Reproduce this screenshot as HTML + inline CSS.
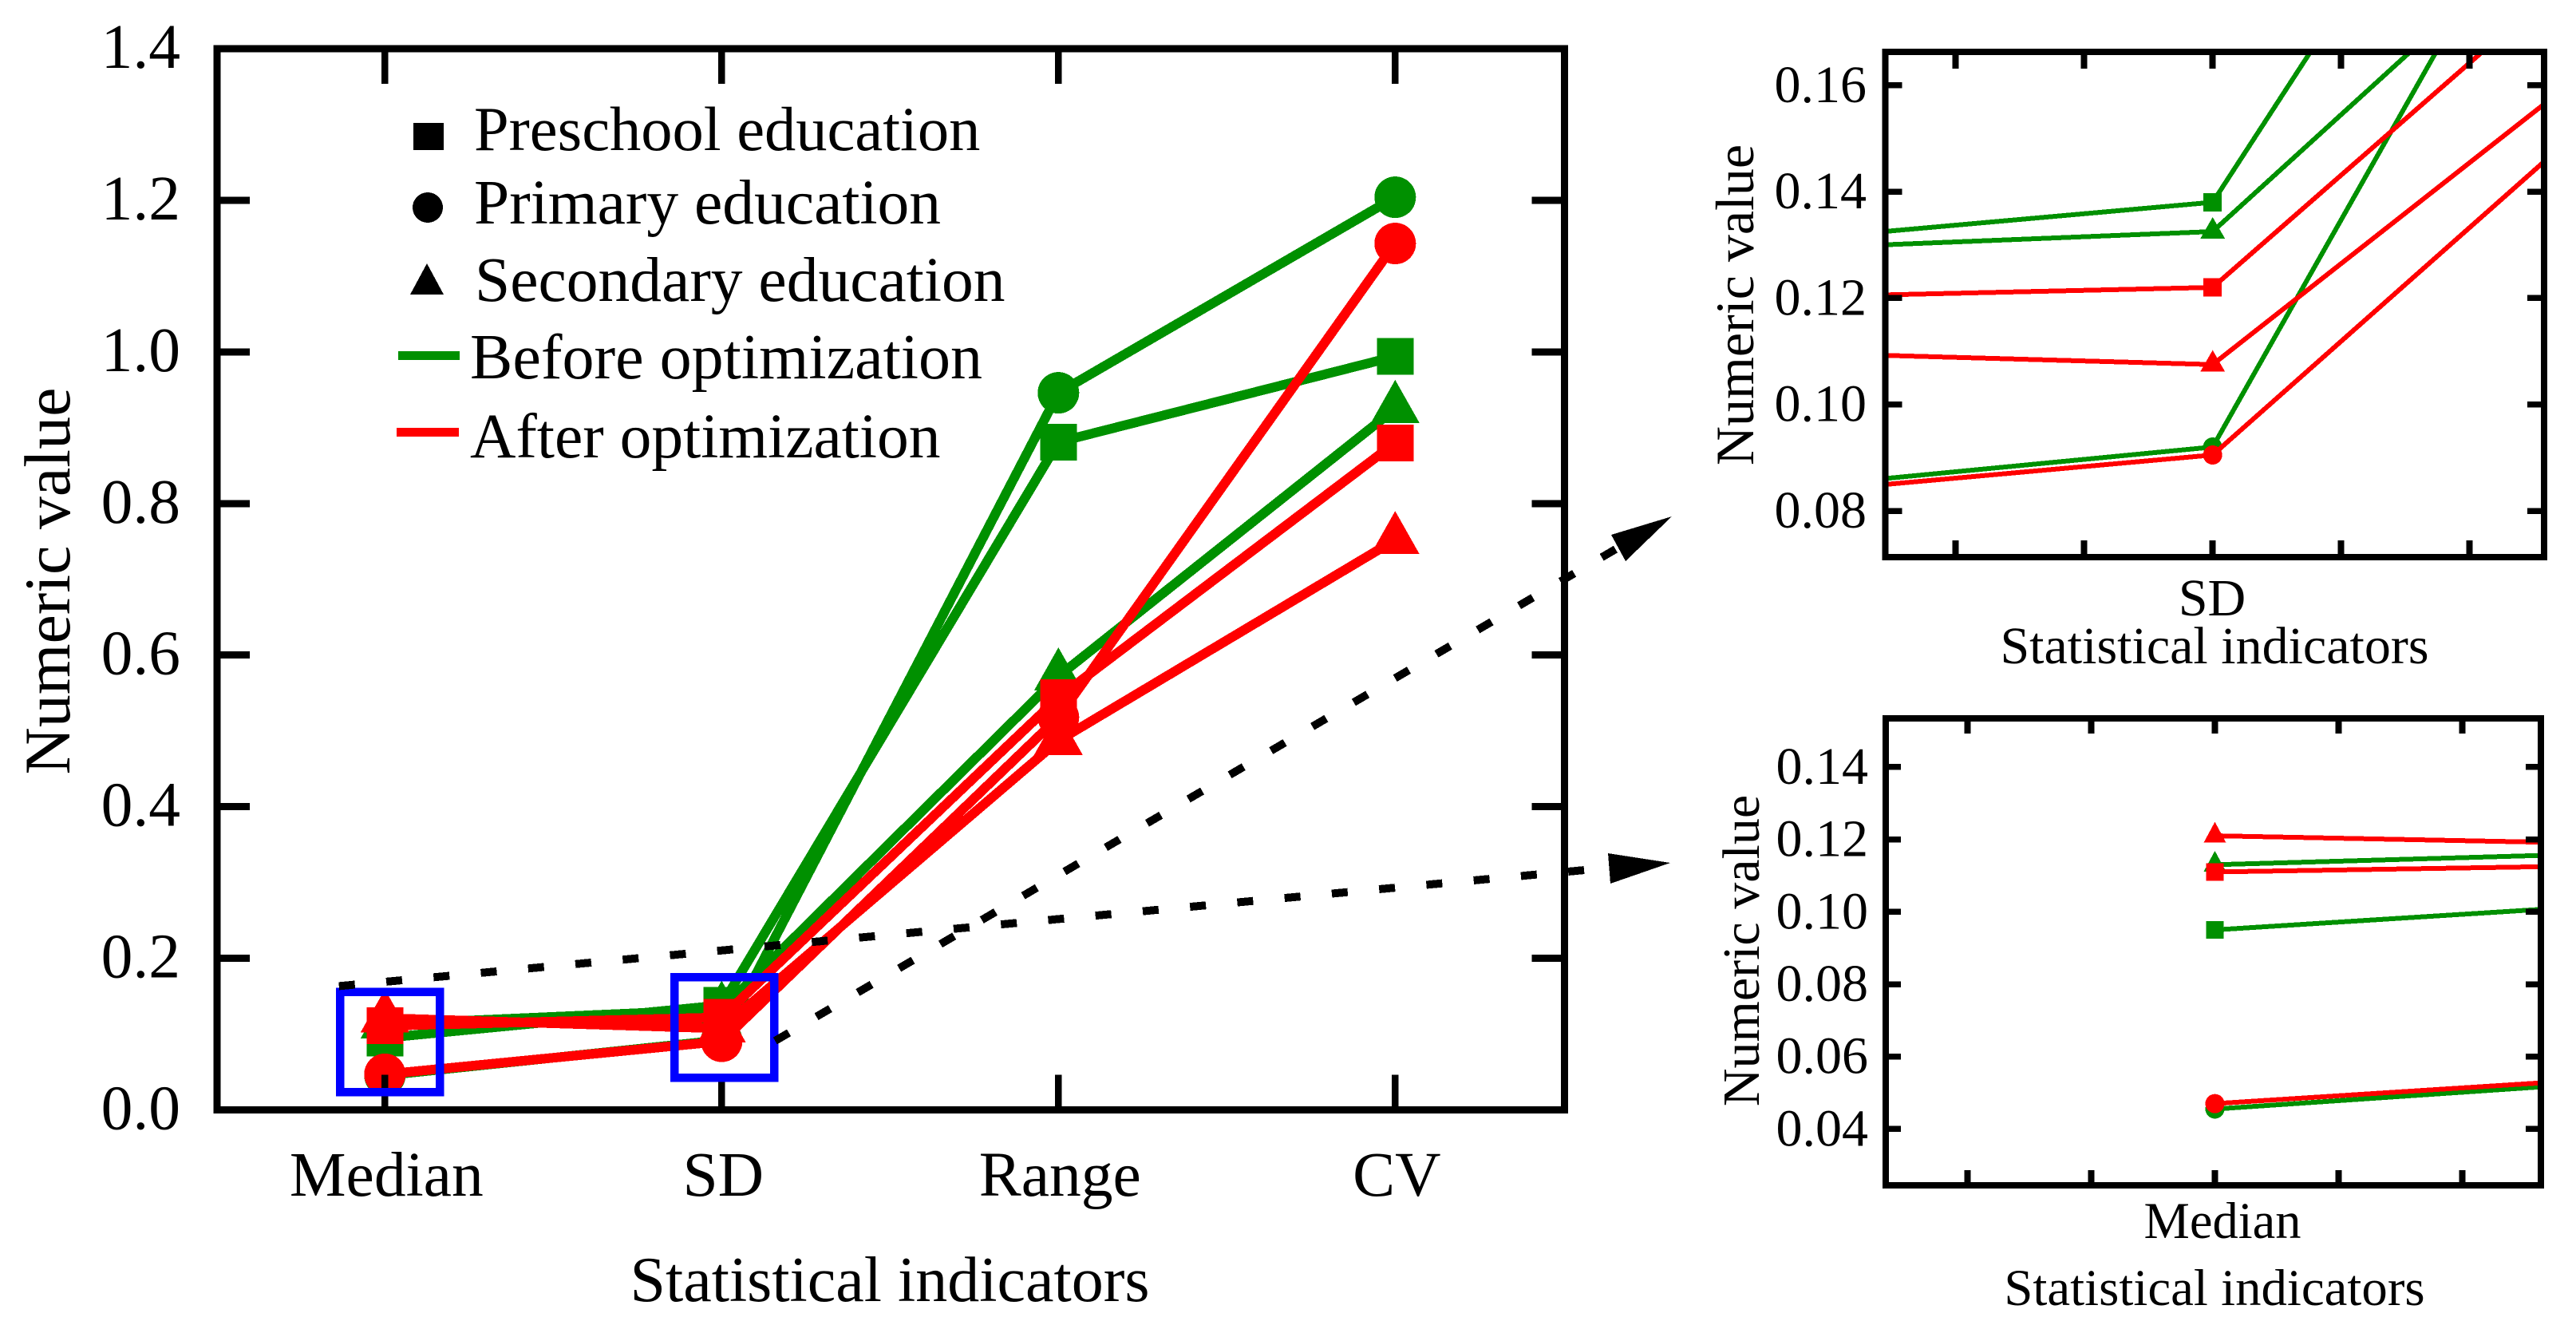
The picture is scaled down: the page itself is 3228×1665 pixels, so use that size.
<!DOCTYPE html>
<html lang="en">
<head>
<meta charset="utf-8">
<title>Statistical indicators before and after optimization</title>
<style>
html,body{margin:0;padding:0;background:#fff;}
svg{display:block;shape-rendering:crispEdges;}
text{font-family:"Liberation Serif","Times New Roman",serif;fill:#000;}
</style>
</head>
<body>
<svg id="figure" xmlns="http://www.w3.org/2000/svg" width="3228" height="1665" viewBox="0 0 3228 1665">
  <rect width="3228" height="1665" fill="#fff"/>
  <defs>
    <clipPath id="clip-sd"><rect x="2362" y="65" width="826" height="633"/></clipPath>
    <clipPath id="clip-median"><rect x="2363" y="900" width="821" height="585"/></clipPath>
  </defs>
  <g id="main-chart"></g>
  <g id="inset-sd"></g>
  <g id="inset-median"></g>

  <g>
    <rect x="518" y="154" width="38" height="34" fill="#000"/>
    <text x="594" y="188" font-size="78.5">Preschool education</text>
    <ellipse cx="536" cy="260" rx="19" ry="19" fill="#000"/>
    <text x="594" y="280" font-size="79.5">Primary education</text>
    <polygon points="535,330 556,369 514,369" fill="#000"/>
    <text x="595" y="377" font-size="79.5">Secondary education</text>
    <rect x="499" y="440" width="77" height="11" fill="#009000"/>
    <text x="589" y="474" font-size="80">Before optimization</text>
    <rect x="497" y="536" width="78" height="11" fill="#ff0000"/>
    <text x="589" y="573" font-size="79.5">After optimization</text>
  </g>

  <rect x="426" y="1242.5" width="125" height="125.5" fill="none" stroke="#0000ff" stroke-width="10.5"/>
  <rect x="845" y="1224" width="125" height="126" fill="none" stroke="#0000ff" stroke-width="10.5"/>

  <line x1="424.8" y1="1235.4" x2="1986" y2="1090" stroke="#000" stroke-width="10" stroke-dasharray="20 39.5"/>
  <polygon points="2015,1069 2018,1107 2093,1081" fill="#000"/>
  <line x1="971.3" y1="1304" x2="2024.6" y2="688" stroke="#000" stroke-width="10" stroke-dasharray="20 40"/>
  <polygon points="2019,670 2037,703 2095,647" fill="#000"/>
</svg>
<script>
// Shared data
const categories = ["Median", "SD", "Range", "CV"];
const preschoolBefore = [0.095, 0.138, 0.881, 0.994];
const primaryBefore = [0.0455, 0.092, 0.946, 1.204];
const secondaryBefore = [0.113, 0.1325, 0.572, 0.925];
const preschoolAfter = [0.111, 0.122, 0.544, 0.880];
const primaryAfter = [0.047, 0.0905, 0.518, 1.143];
const secondaryAfter = [0.121, 0.1075, 0.487, 0.752];
const mainYTicks = [0.0, 0.2, 0.4, 0.6, 0.8, 1.0, 1.2, 1.4];
const sdYTicks = [0.08, 0.10, 0.12, 0.14, 0.16];
const medianYTicks = [0.04, 0.06, 0.08, 0.10, 0.12, 0.14];
const insetXTickOffsets = [-0.1, -0.05, 0, 0.05, 0.1];

const SVGNS = "http://www.w3.org/2000/svg";
const GREEN = "#009000", RED = "#ff0000";
const seriesList = [
  {name: "preschool-before", values: preschoolBefore, color: GREEN, shape: "square"},
  {name: "primary-before", values: primaryBefore, color: GREEN, shape: "circle"},
  {name: "secondary-before", values: secondaryBefore, color: GREEN, shape: "triangle"},
  {name: "preschool-after", values: preschoolAfter, color: RED, shape: "square"},
  {name: "primary-after", values: primaryAfter, color: RED, shape: "circle"},
  {name: "secondary-after", values: secondaryAfter, color: RED, shape: "triangle"}
];

function make(parent, tag, attrs, text) {
  const el = document.createElementNS(SVGNS, tag);
  for (const k in attrs) el.setAttribute(k, attrs[k]);
  if (text !== undefined) el.textContent = text;
  parent.appendChild(el);
  return el;
}

function drawTick(parent, x1, y1, x2, y2, w) {
  const el = make(parent, "line", {x1: x1, y1: y1, x2: x2, y2: y2, stroke: "#000", "stroke-width": w});
  
  
}

function drawLabel(parent, x, y, size, anchor, str, name, rotate) {
  const attrs = {x: x, y: y, "font-size": size, "text-anchor": anchor};
  if (rotate) attrs.transform = "rotate(-90 " + x + " " + y + ")";
  const el = make(parent, "text", attrs, str);
  
  
}

function drawMarker(parent, shape, cx, cy, m, color, name) {
  let el;
  if (shape === "square") {
    el = make(parent, "rect", {x: cx - m.sq / 2, y: cy - m.sq / 2, width: m.sq, height: m.sq, fill: color});
  } else if (shape === "circle") {
    el = make(parent, "circle", {cx: cx, cy: cy, r: m.r, fill: color});
  } else {
    const top = cy - m.th * 0.67, bot = cy + m.th * 0.33;
    el = make(parent, "polygon", {points: cx + "," + top + " " + (cx + m.tw / 2) + "," + bot + " " + (cx - m.tw / 2) + "," + bot, fill: color});
  }
  
  
}

function drawSeries(parent, xFn, yFn, lineWidth, marker, clipId, indices) {
  const lines = make(parent, "g", clipId ? {"clip-path": "url(#" + clipId + ")"} : {});
  
  
  seriesList.forEach(function (s) {
    const pts = s.values.map(function (v, i) { return xFn(i) + "," + yFn(v); }).join(" ");
    const line = make(lines, "polyline", {points: pts, fill: "none", stroke: s.color, "stroke-width": lineWidth, "stroke-linejoin": "round"});
    
    
    indices.forEach(function (i) {
      drawMarker(lines, s.shape, xFn(i), yFn(s.values[i]), marker, s.color, 'marker-' + s.name + '-' + categories[i].toLowerCase());
    });
  });
}

function drawFrame(parent, l, t, r, b, w) {
  const el = make(parent, "rect", {x: l, y: t, width: r - l, height: b - t, fill: "none", stroke: "#000", "stroke-width": w});
  
  
}

// Main chart
(function () {
  const g = document.getElementById("main-chart");
  const L = 272, R = 1960.5, T = 61, B = 1390.5;
  const x = function (i) { return 482.3 + 422 * i; };
  const y = function (v) { return B - (v / 1.4) * (B - T); };
  drawSeries(g, x, y, 12, {sq: 46, r: 26, tw: 61, th: 54}, null, [0, 1, 2, 3]);
  mainYTicks.forEach(function (v) {
    if (v > 0 && v < 1.4) {
      drawTick(g, L, y(v), L + 41, y(v), 9);
      drawTick(g, R, y(v), R - 41, y(v), 9);
    }
    drawLabel(g, 226, y(v) + 24, 79.5, "end", v.toFixed(1), 'y-tick-label');
  });
  categories.forEach(function (c, i) {
    drawTick(g, x(i), T, x(i), T + 44, 8.7);
    drawTick(g, x(i), B, x(i), B - 44, 8.7);
    drawLabel(g, x(i) + 2, 1498, 79.5, "middle", c, 'x-tick-label');
  });
  drawFrame(g, L, T, R, B, 9);
  drawLabel(g, 1115, 1630, 80, "middle", "Statistical indicators", 'x-axis-title');
  drawLabel(g, 87, 728, 82, "middle", "Numeric value", 'y-axis-title', true);
})();

// Inset zoomed on SD
(function () {
  const g = document.getElementById("inset-sd");
  const L = 2362.6, R = 3188, T = 65, B = 698;
  const x = function (i) { return 2772.7 + 3220 * (i - 1); };
  const y = function (v) { return 640 - (v - 0.08) / 0.02 * 133.3; };
  drawSeries(g, x, y, 6, {sq: 23, r: 12, tw: 31, th: 27}, "clip-sd", [1]);
  sdYTicks.forEach(function (v) {
    drawTick(g, L, y(v), L + 21, y(v), 7.5);
    drawTick(g, R, y(v), R - 21, y(v), 7.5);
    drawLabel(g, 2339, y(v) + 21, 66, "end", v.toFixed(2), 'inset-sd-y-tick-label');
  });
  insetXTickOffsets.forEach(function (d) {
    drawTick(g, x(1 + d), T, x(1 + d), T + 21, 8);
    drawTick(g, x(1 + d), B, x(1 + d), B - 21, 8);
  });
  drawFrame(g, L, T, R, B, 8);
  drawLabel(g, 2772, 771, 66, "middle", categories[1], 'inset-sd-x-tick-label');
  drawLabel(g, 2775, 831, 66, "middle", "Statistical indicators", 'inset-sd-x-axis-title');
  drawLabel(g, 2197, 382, 68, "middle", "Numeric value", 'inset-sd-y-axis-title', true);
})();

// Inset zoomed on Median
(function () {
  const g = document.getElementById("inset-median");
  const L = 2363, R = 3184, T = 900, B = 1485;
  const x = function (i) { return 2775.5 + 3100 * i; };
  const y = function (v) { return 1414.4 - (v - 0.04) / 0.02 * 90.7; };
  drawSeries(g, x, y, 6, {sq: 22, r: 12, tw: 28, th: 26}, "clip-median", [0]);
  medianYTicks.forEach(function (v) {
    drawTick(g, L, y(v), L + 19, y(v), 7.5);
    drawTick(g, R, y(v), R - 19, y(v), 7.5);
    drawLabel(g, 2341, y(v) + 21, 66, "end", v.toFixed(2), 'inset-median-y-tick-label');
  });
  insetXTickOffsets.forEach(function (d) {
    drawTick(g, x(d), T, x(d), T + 19, 8);
    drawTick(g, x(d), B, x(d), B - 19, 8);
  });
  drawFrame(g, L, T, R, B, 8);
  drawLabel(g, 2785, 1551, 64.5, "middle", categories[0], 'inset-median-x-tick-label');
  drawLabel(g, 2775, 1635, 64.8, "middle", "Statistical indicators", 'inset-median-x-axis-title');
  drawLabel(g, 2204, 1191, 66, "middle", "Numeric value", 'inset-median-y-axis-title', true);
})();
</script>
</body>
</html>
